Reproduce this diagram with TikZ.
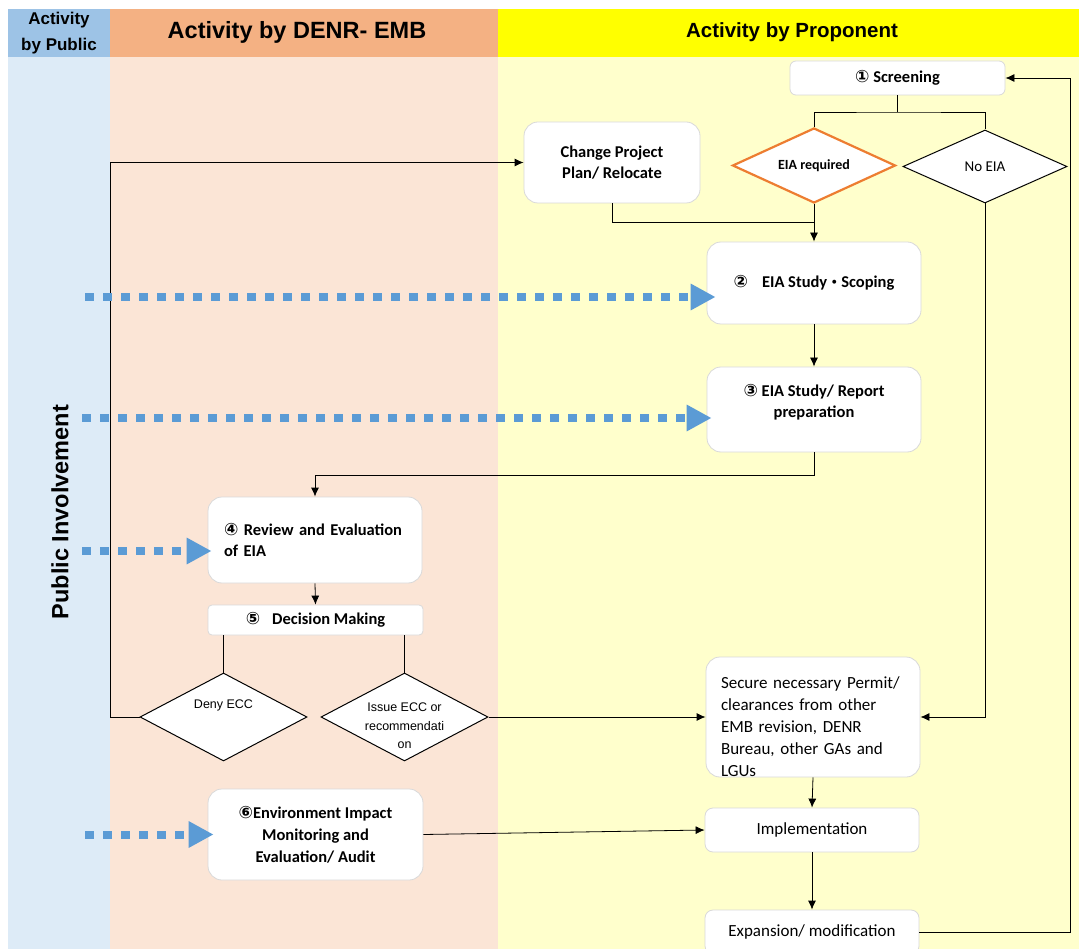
\documentclass[tikz,border=0pt]{standalone}
\usepackage{fontspec}
\setmainfont{Carlito}
\newfontfamily\arialf{Liberation Sans}
\newfontfamily\dvsans{DejaVu Sans}
\newfontfamily\cjkf{Noto Sans CJK JP}
\usetikzlibrary{arrows.meta,shapes.geometric,calc}
\newcommand{\circnum}[1]{{\dvsans\fontsize{17}{21}\selectfont #1}}
\definecolor{hdblue}{HTML}{9DC3E6}
\definecolor{bdblue}{HTML}{DDEBF7}
\definecolor{hdorange}{HTML}{F4B183}
\definecolor{bdorange}{HTML}{FBE5D6}
\definecolor{hdyellow}{HTML}{FFFF00}
\definecolor{bdyellow}{HTML}{FFFFCC}
\definecolor{boxgray}{HTML}{D9D9D9}
\definecolor{pubblue}{HTML}{5B9BD5}
\definecolor{eiaorange}{HTML}{ED7D31}
\tikzset{
  x=1pt, y=-1pt,
  procbox/.style={draw=boxgray, fill=white, line width=0.8pt, rounded corners=14pt,
    inner sep=0pt, align=center, font=\fontsize{16.5}{21}\selectfont\bfseries},
  smallbox/.style={procbox, rounded corners=6pt},
  regbox/.style={procbox, font=\fontsize{17}{22}\selectfont},
  decision/.style={diamond, draw=black, fill=white, line width=1pt, inner sep=0pt},
  dtext/.style={font=\arialf\fontsize{12.5}{18.5}\selectfont, align=center},
  flow/.style={draw=black, line width=0.8pt, -{Latex[length=9pt,width=8pt]}},
  plain/.style={draw=black, line width=0.8pt},
  pub/.style={draw=pubblue, line width=8pt, dash pattern=on 9pt off 9pt,
    -{Triangle[length=25pt,width=25pt]}},
  hdtext/.style={font=\arialf\bfseries, align=center},
}
\begin{document}
\begin{tikzpicture}
\useasboundingbox (0,0) rectangle (1079,949);
% backgrounds
\fill[white] (0,0) rectangle (1079,949);
\fill[hdblue] (8,9) rectangle (110,57);
\fill[hdorange] (110,9) rectangle (498,57);
\fill[hdyellow] (498,9) rectangle (1079,57);
\fill[bdblue] (8,57) rectangle (110,949);
\fill[bdorange] (110,57) rectangle (498,949);
\fill[bdyellow] (498,57) rectangle (1079,949);
% headers
\node[hdtext, font=\arialf\bfseries\fontsize{17}{26}\selectfont] (hpub) at (59,33) {Activity\\by Public};
\node[hdtext, font=\arialf\bfseries\fontsize{23.5}{25}\selectfont] (hdenr) at (297,32) {Activity by DENR- EMB};
\node[hdtext, font=\arialf\bfseries\fontsize{20.5}{25}\selectfont] (hprop) at (792,32) {Activity by Proponent};
\node[hdtext, font=\arialf\bfseries\fontsize{23.5}{25}\selectfont, rotate=90] (pinv) at (60,512) {Public Involvement};

% proponent nodes
\node[smallbox, minimum width=215, minimum height=34] (screen) at (897.5,78) {\circnum{①} Screening};
\node[procbox, minimum width=176, minimum height=81] (change) at (612,162.5) {Change Project\\Plan/ Relocate};
\node[decision, draw=eiaorange, line width=2.2pt, minimum width=163, minimum height=75,
  label={[font=\fontsize{14}{17}\selectfont\bfseries]center:EIA required}] (eiareq) at (814,165.5) {};
\node[decision, minimum width=164, minimum height=73,
  label={[font=\fontsize{15}{17}\selectfont]center:No EIA}] (noeia) at (985,166.5) {};
\node[procbox, minimum width=214, minimum height=82] (scoping) at (814,283)
  {\circnum{②}\hspace{14pt}EIA Study{\cjkf\fontsize{14}{17}\selectfont ・}Scoping};
\node[procbox, minimum width=214, minimum height=85] (report) at (814,409.5)
  {\circnum{③} EIA Study/ Report\\preparation\\[-10pt]\strut};
\node[regbox, minimum width=214, minimum height=120, text width=184, align=left] (secure) at (813,717)
  {\strut\\[-6pt]Secure necessary Permit/\\clearances from other\\EMB revision, DENR\\Bureau, other GAs and\\LGUs};
\node[regbox, rounded corners=8pt, minimum width=214, minimum height=44] (impl) at (812,830) {Implementation};
\node[regbox, rounded corners=8pt, minimum width=214, minimum height=44] (expan) at (812,932) {Expansion/ modification};

% DENR nodes
\node[procbox, minimum width=214, minimum height=86, text width=182, align=left] (review) at (315,540)
  {\circnum{④} Review and Evaluation\\of EIA};
\node[smallbox, rounded corners=4pt, minimum width=215, minimum height=30] (decide) at (315.5,620)
  {\circnum{⑤}\hspace{12pt}Decision Making};
\node[decision, minimum width=167, minimum height=88,
  label={[dtext, yshift=12pt]center:Deny ECC}] (deny) at (223.5,717) {};
\node[decision, minimum width=167, minimum height=88,
  label={[dtext, yshift=-9pt]center:Issue ECC or\\recommendati\\on}] (issue) at (404.5,717) {};
\node[procbox, minimum width=215, minimum height=91, font=\fontsize{16.5}{22}\selectfont\bfseries] (env) at (315.5,834.5)
  {\circnum{⑥}Environment Impact\\Monitoring and\\Evaluation/ Audit};

% connectors
\coordinate (s1) at (897.5,112);
\draw[plain] (screen.south) -- (s1);
\draw[plain] (eiareq.north) |- (s1) -| (noeia.north);
\coordinate (j1) at (814,222);
\draw[plain] (change.south) |- (j1);
\draw[flow] (eiareq.south) -- (scoping.north);
\draw[flow] (scoping.south) -- (report.north);
\coordinate (j2) at (814,475);
\draw[flow] (report.south) -- (j2) -| (review.north);
\draw[flow] (review.south) -- (decide.north);
\draw[plain] (deny.north) -- (deny.north |- decide.south);
\draw[plain] (issue.north) -- (issue.north |- decide.south);
\coordinate (j3) at (110,717);
\draw[flow] (deny.west) -- (j3) |- (change.west);
\draw[flow] (issue.east) -- (secure.west);
\draw[flow] (noeia.south) |- (secure.east);
\draw[flow] (secure.south) -- (impl.north);
\draw[flow] (impl.south) -- (expan.north);
\coordinate (j4) at (1070,932);
\draw[flow] (expan.east) -- (j4) |- (screen.east);
\draw[flow] (env.east) -- (impl.west);

% public involvement arrows
\coordinate (p1) at (85,297);
\coordinate (p2) at (82,418);
\coordinate (p3) at (82,551);
\coordinate (p4) at (85,834.5);
\draw[pub, shorten >=-9pt] (p1) -- (scoping.west |- p1);
\draw[pub, shorten >=-5pt] (p2) -- (report.west |- p2);
\draw[pub, shorten >=-4pt] (p3) -- (review.west |- p3);
\draw[pub, shorten >=-6pt] (p4) -- (env.west);
\end{tikzpicture}
\end{document}
